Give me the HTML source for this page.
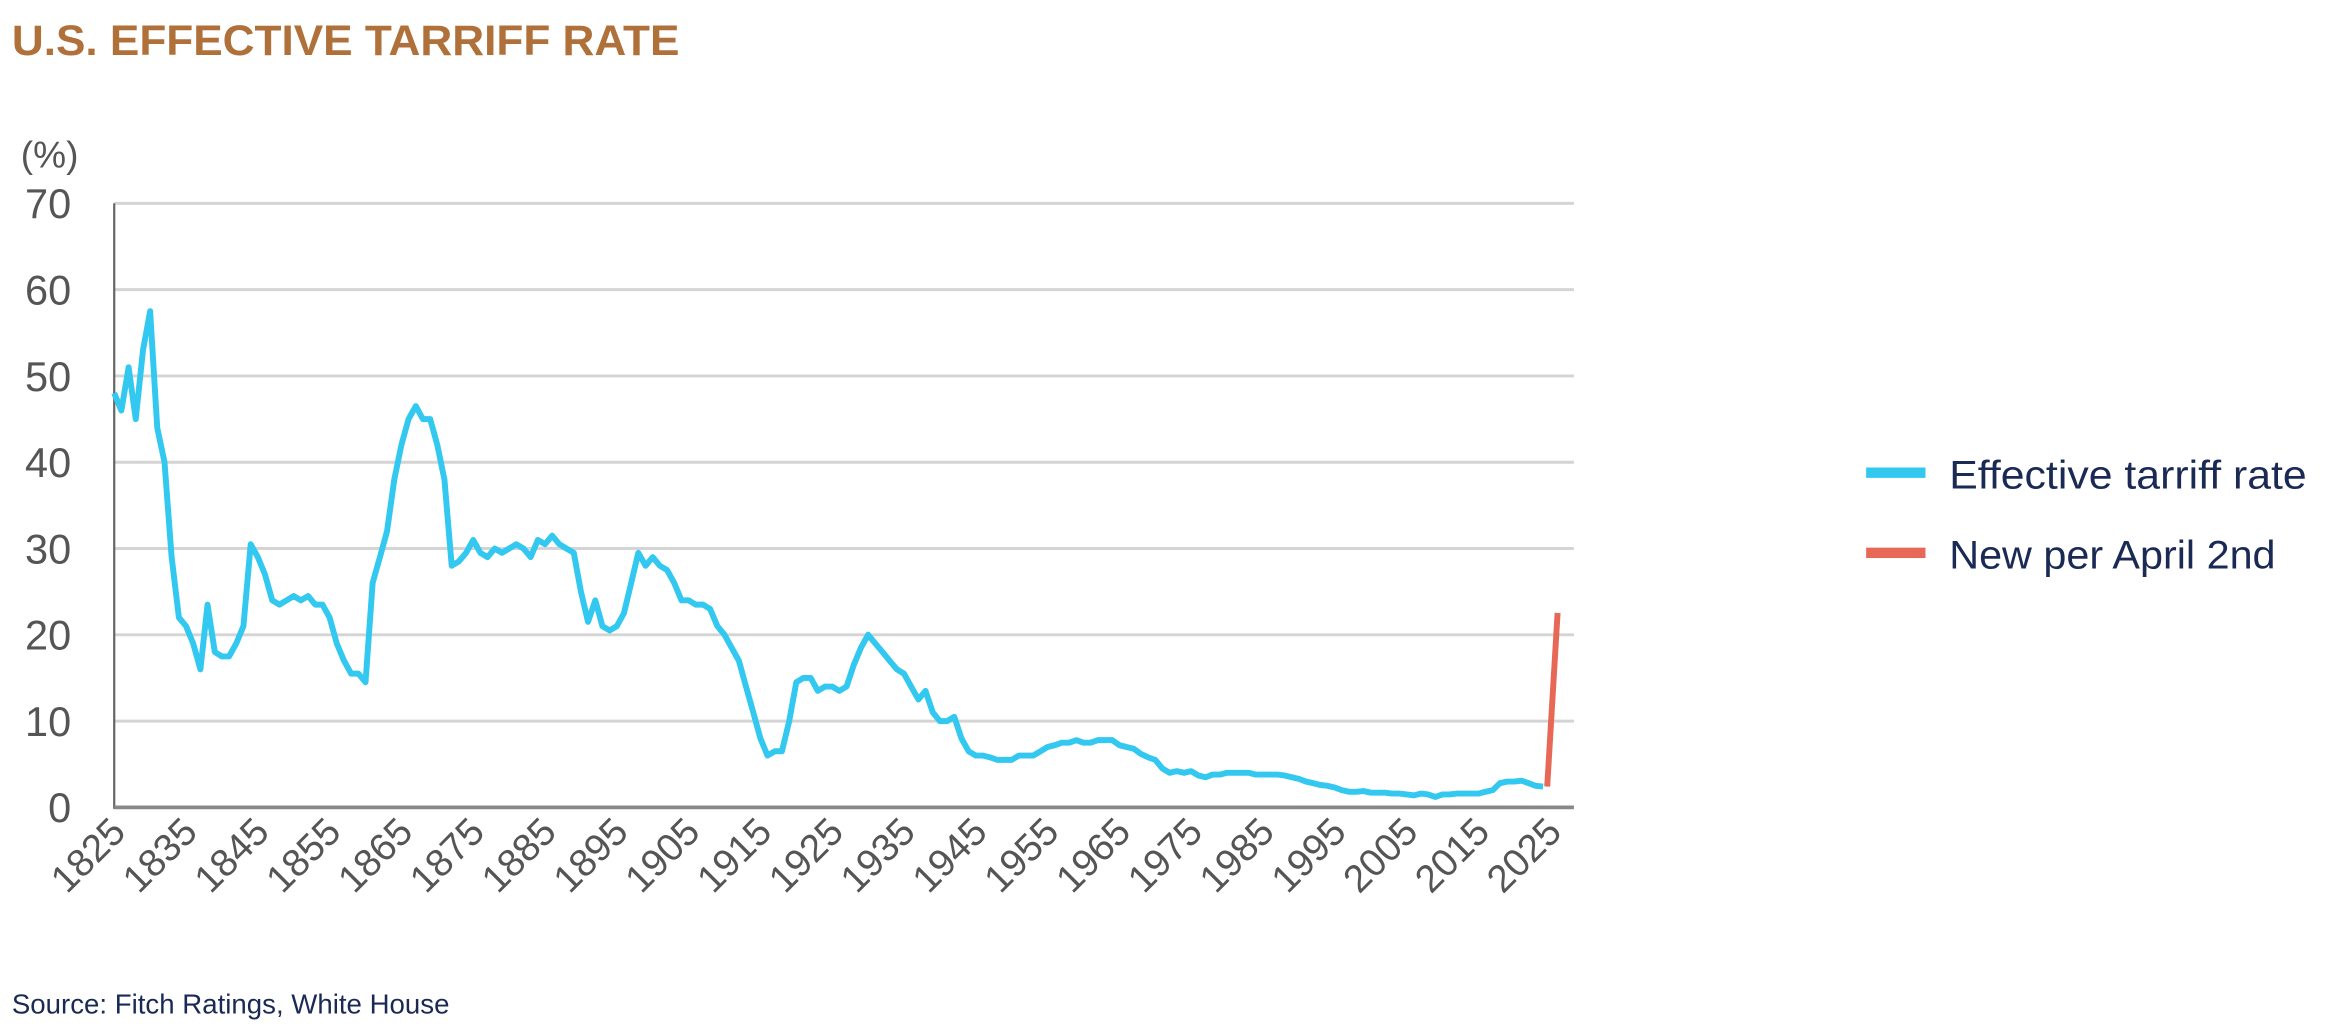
<!DOCTYPE html>
<html><head><meta charset="utf-8"><style>
html,body{margin:0;padding:0;background:#fff;}
svg{display:block;}
text{font-family:"Liberation Sans",sans-serif;}
</style></head><body>
<svg id="s" width="2326" height="1030" viewBox="0 0 1568 694" preserveAspectRatio="none" xmlns="http://www.w3.org/2000/svg">
<text x="8" y="37" font-size="29" fill="#b0703a" font-weight="bold" textLength="450" lengthAdjust="spacingAndGlyphs">U.S. EFFECTIVE TARRIFF RATE</text>
<text x="14" y="113" font-size="25" fill="#555">(%)</text>
<g id="grid"></g>
<line x1="77" y1="137" x2="77" y2="545" stroke="#666" stroke-width="1.5"/>
<line x1="77" y1="544" x2="1061" y2="544" stroke="#888" stroke-width="2.5"/>
<polyline id="blue" fill="none" stroke="#33c8f0" stroke-width="4" stroke-linejoin="round"/>
<line x1="1043" y1="530" x2="1050" y2="413" stroke="#e86858" stroke-width="4"/>
<rect x="1258" y="315" width="40" height="7" fill="#33c8f0"/>
<text x="1314" y="329" font-size="27" fill="#1a2a55" textLength="241" lengthAdjust="spacingAndGlyphs">Effective tarriff rate</text>
<rect x="1258" y="369" width="40" height="7" fill="#e86858"/>
<text x="1314" y="383" font-size="27" fill="#1a2a55" textLength="220" lengthAdjust="spacingAndGlyphs">New per April 2nd</text>
<text x="8" y="683" font-size="19" fill="#1a2a55" textLength="295" lengthAdjust="spacingAndGlyphs">Source: Fitch Ratings, White House</text>
</svg>
<script>
var X=function(y){return 77+(y-1825)*4.84;},Y=function(v){return 544-v*5.814;};
var d=[48,46,51,45,53,57.5,44,40,29,22,21,19,16,23.5,18,17.5,17.5,19,21,30.5,29,27,24,23.5,24,24.5,24,24.5,23.5,23.5,22,19,17,15.5,15.5,14.5,26,29,32,38,42,45,46.5,45,45,42,38,28,28.5,29.5,31,29.5,29,30,29.5,30,30.5,30,29,31,30.5,31.5,30.5,30,29.5,25,21.5,24,21,20.5,21,22.5,26,29.5,28,29,28,27.5,26,24,24,23.5,23.5,23,21,20,18.5,17,14,11,8,6,6.5,6.5,10,14.5,15,15,13.5,14,14,13.5,14,16.5,18.5,20,19,18,17,16,15.5,14,12.5,13.5,11,10,10,10.5,8,6.5,6,6,5.8,5.5,5.5,5.5,6,6,6,6.5,7,7.2,7.5,7.5,7.8,7.5,7.5,7.8,7.8,7.8,7.2,7,6.8,6.2,5.8,5.5,4.5,4,4.2,4,4.2,3.7,3.5,3.8,3.8,4,4,4,4,3.8,3.8,3.8,3.8,3.7,3.5,3.3,3,2.8,2.6,2.5,2.3,2,1.8,1.8,1.9,1.7,1.7,1.7,1.6,1.6,1.5,1.4,1.6,1.5,1.2,1.5,1.5,1.6,1.6,1.6,1.6,1.8,2,2.8,3,3,3.1,2.8,2.5,2.4];
var p=d.map(function(v,i){return X(1825+i).toFixed(1)+","+Y(v).toFixed(1);}).join(" ");
document.getElementById("blue").setAttribute("points",p);
var g=document.getElementById("grid"),h="";
for(var v=0;v<=70;v+=10){var y=Y(v);
 if(v>0)h+='<line x1="77" y1="'+y+'" x2="1061" y2="'+y+'" stroke="#d4d4d4" stroke-width="2"/>';
 h+='<text x="48" y="'+(y+10)+'" font-size="28" fill="#555" text-anchor="end">'+v+'</text>';}
for(var yr=1825;yr<=2025;yr+=10){var x=X(yr)+9;
 h+='<text x="'+x+'" y="562" font-size="26" fill="#555" text-anchor="end" transform="rotate(-45 '+x+' 562)">'+yr+'</text>';}
g.innerHTML=h;
</script>
</body></html>
